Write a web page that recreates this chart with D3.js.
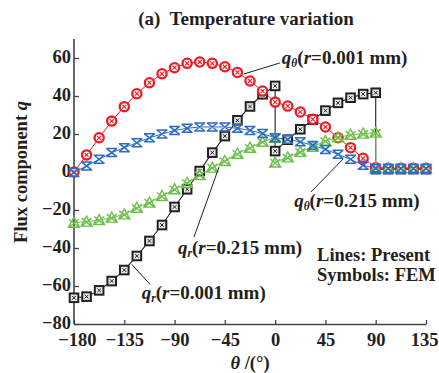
<!DOCTYPE html>
<html>
<head>
<meta charset="utf-8">
<script src="https://cdn.jsdelivr.net/npm/d3@7"></script>
<style>
  html, body { margin: 0; padding: 0; background: #fff; }
  svg { display: block; }
  text { font-family: "Liberation Serif", "Times New Roman", serif; font-weight: bold; fill: #231f20; }
</style>
</head>
<body>
<svg id="chart" width="439" height="373"></svg>
<script>
// ---- data ----
const thetaFull = [-180, -168.75, -157.5, -146.25, -135, -123.75, -112.5, -101.25, -90, -78.75, -67.5, -56.25, -45, -33.75, -22.5, -11.25, 0, 11.25, 22.5, 33.75, 45, 56.25, 67.5, 78.75, 90, 101.25, 112.5, 123.75, 135];
// series with jumps at 0 and 90 degrees (duplicated angles)
const thetaJump = [-180, -168.75, -157.5, -146.25, -135, -123.75, -112.5, -101.25, -90, -78.75, -67.5, -56.25, -45, -33.75, -22.5, -11.25, 0, 0, 11.25, 22.5, 33.75, 45, 56.25, 67.5, 78.75, 90, 90, 101.25, 112.5, 123.75, 135];

const qrSmall = [-66.2, -65.6, -62.3, -57.4, -51.6, -44.2, -36.3, -27.9, -18.4, -9.1, 0.5, 10.2, 18.9, 27.2, 34.5, 40.9, 45.3, 11, 17, 22.5, 27.5, 32.3, 36.4, 39.1, 41, 41.7, 1.5, 1.5, 1.5, 1.5, 1.5];   // q_r (r=0.001 mm)
const qrLarge = [-26.7, -26.1, -25.3, -24, -22.3, -18.8, -16.1, -12.6, -9.1, -5.8, -1.6, 2.3, 5.8, 9.6, 12.8, 15.9, 18, 5, 7.7, 10.6, 13.2, 16.3, 18.2, 19.6, 20.2, 20.7, 2, 2, 2, 2, 2];             // q_r (r=0.215 mm)
const qtSmall = [0, 9, 18, 26.8, 34.4, 41.2, 47, 51.7, 54.9, 57.2, 57.9, 57.2, 55.4, 52.4, 47.9, 42.6, 36.8, 34.7, 31.6, 27.7, 23.7, 18, 12.8, 7.2, 2.3, 2, 2, 2, 2];          // q_theta (r=0.001 mm)
const qtLarge = [-0.3, 3.2, 6.7, 10.2, 12.8, 15.4, 18, 20, 21.9, 23, 23.7, 23.7, 23.7, 23, 21.9, 20.2, 18, 17.2, 15.9, 14, 11.9, 9.3, 6.7, 3.5, 1.9, 1.8, 1.8, 1.8, 1.8];    // q_theta (r=0.215 mm)

const xTicks = [-180, -135, -90, -45, 0, 45, 90, 135];
const yTicks = [-80, -60, -40, -20, 0, 20, 40, 60];

// annotation anchors in data units: [theta, q]
const annotations = [
  { sub: "θ", rtxt: "=0.001 mm)", text: [6, 56.8], from: [-27.9, 51.6], to: [4.3, 57.4] },
  { sub: "θ", rtxt: "=0.215 mm)", text: [17, -18.4], from: [32.1, -10.5], to: [60.7, 6.8] },
  { sub: "r", rtxt: "=0.215 mm)", text: [-86.9, -43.2], from: [-72.6, -34.2], to: [-50.2, 2.6] },
  { sub: "r", rtxt: "=0.001 mm)", text: [-119.4, -66.8], from: [-128.4, -48.6], to: [-112, -59.1] }
];
const noteLines = ["Lines: Present", "Symbols: FEM"];
const notePos = [37.5, -46.8];

// ---- drawing ----
const svg = d3.select("#chart");
const x = d3.scaleLinear().domain([-180, 135]).range([74, 426]);
const y = d3.scaleLinear().domain([-80, 70]).range([324, 39]);

const colors = { black: "#231f20", red: "#ec1c24", blue: "#2b6cc4", green: "#6cc04a" };

// axes
const gx = svg.append("g").attr("transform", `translate(0,${y(-80)})`)
  .call(d3.axisBottom(x).tickValues(xTicks).tickSize(-4).tickSizeOuter(0).tickPadding(9));
const gy = svg.append("g").attr("transform", `translate(${x(-180)},0)`)
  .call(d3.axisLeft(y).tickValues(yTicks).tickSize(-5).tickSizeOuter(0).tickPadding(3));
[gx, gy].forEach(g => {
  g.select(".domain").attr("stroke", "#444").attr("stroke-width", 1.6);
  g.selectAll(".tick line").attr("stroke", "#444").attr("stroke-width", 1.3);
  g.selectAll(".tick text").attr("font-family", "Liberation Serif").attr("font-weight", "bold")
    .attr("font-size", 18.5).attr("fill", "#231f20");
});
gy.selectAll(".tick text").attr("dy", "0.26em");
gx.selectAll(".tick text").filter(d => d === 135).attr("dx", "-0.1em");
gx.selectAll(".tick text").filter(d => d === -180).attr("dx", "0.15em");
// extend left axis to the top of the domain
gy.select(".domain").attr("d", `M0,${y(-80)}V${y(70)}`);

// lines
const line = d3.line().x(d => x(d[0])).y(d => y(d[1]));
function series(th, vals) { return th.map((t, i) => [t, vals[i]]); }
const S = {
  black: series(thetaJump, qrSmall),
  red: series(thetaFull, qtSmall),
  green: series(thetaJump, qrLarge),
  blue: series(thetaFull, qtLarge)
};
["black", "red", "green", "blue"].forEach(k => {
  svg.append("path").datum(S[k]).attr("d", line).attr("fill", "none")
    .attr("stroke", colors[k]).attr("stroke-width", k === "black" ? 1.1 : 1);
});

// markers
function drawMarkers(k, drawFn) {
  const g = svg.append("g");
  S[k].forEach(d => {
    const m = g.append("g").attr("transform", `translate(${x(d[0])},${y(d[1])})`);
    drawFn(m);
  });
}
drawMarkers("black", m => {
  m.append("rect").attr("x", -4.3).attr("y", -4.3).attr("width", 8.6).attr("height", 8.6)
    .attr("fill", "#e6e6e6").attr("stroke", colors.black).attr("stroke-width", 2);
  m.append("path").attr("d", "M-1.8,-1.8L1.8,1.8M1.8,-1.8L-1.8,1.8").attr("stroke", colors.black).attr("stroke-width", 1);
});
drawMarkers("red", m => {
  m.append("circle").attr("r", 4.6).attr("fill", "#fff").attr("stroke", colors.red).attr("stroke-width", 2.3);
  m.append("path").attr("d", "M-2,-2L2,2M2,-2L-2,2").attr("stroke", colors.red).attr("stroke-width", 1.1);
});
drawMarkers("green", m => {
  m.append("path").attr("d", "M0,-5.5L5.5,4.5H-5.5Z M-5,-3.5L5,4.5 M5,-3.5L-5,4.5")
    .attr("fill", "none").attr("stroke", colors.green).attr("stroke-width", 1.4);
});
drawMarkers("blue", m => {
  m.append("path").attr("d", "M-5.5,-4H5.5 M-5.5,4H5.5 M-5,-4L5,4 M5,-4L-5,4 M-2.5,-2L0,0L2.5,-2")
    .attr("fill", "none").attr("stroke", colors.blue).attr("stroke-width", 1.5);
});

// annotations
annotations.forEach(a => {
  svg.append("line")
    .attr("x1", x(a.from[0])).attr("y1", y(a.from[1]))
    .attr("x2", x(a.to[0])).attr("y2", y(a.to[1]))
    .attr("stroke", colors.black).attr("stroke-width", 1);
  const t = svg.append("text").attr("x", x(a.text[0])).attr("y", y(a.text[1])).attr("font-size", 19);
  t.append("tspan").attr("font-style", "italic").text("q");
  t.append("tspan").attr("font-style", "italic").attr("font-size", 11.5).attr("dy", 3).text(a.sub);
  t.append("tspan").attr("dy", -3).text("(");
  t.append("tspan").attr("font-style", "italic").text("r");
  t.append("tspan").text(a.rtxt);
});

noteLines.forEach((s, i) => {
  svg.append("text").attr("x", x(notePos[0])).attr("y", y(notePos[1]) + i * 20)
    .attr("font-size", 18.5).text(s);
});

// title
svg.append("text").attr("x", 246).attr("y", 25).attr("text-anchor", "middle")
  .attr("font-size", 19).style("white-space", "pre").text("(a)  Temperature variation");

// axis titles
const xl = svg.append("text").attr("x", 250).attr("y", 369).attr("text-anchor", "middle").attr("font-size", 18.5);
xl.append("tspan").attr("font-style", "italic").text("θ");
xl.append("tspan").text(" /(°)");

const yl = svg.append("text").attr("transform", "translate(27,172) rotate(-90)").attr("text-anchor", "middle").attr("font-size", 18.5);
yl.append("tspan").text("Flux component ");
yl.append("tspan").attr("font-style", "italic").text("q");
</script>
</body>
</html>
